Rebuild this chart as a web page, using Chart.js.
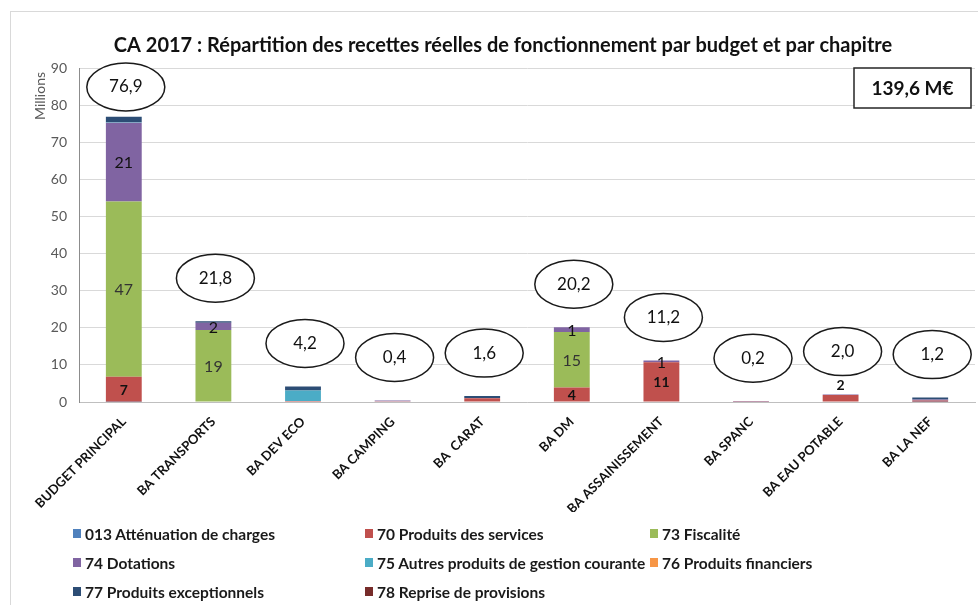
<!DOCTYPE html>
<html lang="fr">
<head>
    <meta charset="UTF-8">
    <title>CA 2017 - Recettes réelles de fonctionnement</title>
    <style>
        body {
            margin: 0;
            background: #fff;
            font-family: Lato, "Open Sans", sans-serif;
            overflow: hidden;
        }
        .frame {
            position: absolute;
            left: 10px;
            top: 11px;
            width: 1000px;
            height: 700px;
            border: 1px solid #d9d9d9;
        }
        #chart {
            position: absolute;
            left: 0;
            top: 0;
        }
        .legend {
            position: absolute;
            left: 73px;
            top: 519px;
            display: grid;
            grid-template-columns: 292px 285px auto;
            grid-auto-rows: 29px;
            font-size: 15.5px;
            font-weight: bold;
            color: #1a1a1a;
        }
        .legend div {
            display: flex;
            align-items: center;
            white-space: nowrap;
        }
        .legend span.box {
            width: 8px;
            height: 9px;
            margin-right: 4px;
        }
    </style>
    <script src="https://cdn.jsdelivr.net/npm/chart.js"></script>
</head>
<body>
    <div class="frame"></div>
    <canvas id="chart" width="978" height="605"></canvas>
    <div class="legend" id="legend"></div>
    <script>
        const budgets = ['BUDGET PRINCIPAL', 'BA TRANSPORTS', 'BA DEV ECO', 'BA CAMPING', 'BA  CARAT',
            'BA DM', 'BA ASSAINISSEMENT', 'BA SPANC', 'BA EAU POTABLE', 'BA LA NEF'];

        const chapitres = ['013 Atténuation de charges', '70 Produits des services', '73 Fiscalité',
            '74 Dotations', '75 Autres produits de gestion courante', '76 Produits financiers',
            '77 Produits exceptionnels', '78 Reprise de provisions'];

        // millions d'euros, one value per budget
        const ch013 = [0.10, 0, 0, 0, 0, 0, 0, 0, 0, 0.10];
        const ch70 = [6.72, 0, 0.30, 0.20, 1.00, 3.90, 10.70, 0.10, 1.90, 0.30];
        const ch73 = [47.20, 19.37, 0, 0, 0, 14.97, 0, 0, 0, 0];
        const ch74 = [21.20, 2.00, 0, 0.20, 0.10, 1.30, 0.50, 0.10, 0.10, 0.30];
        const ch75 = [0.15, 0, 2.80, 0, 0, 0, 0, 0, 0, 0];
        const ch76 = [0, 0, 0, 0, 0, 0, 0, 0, 0, 0];
        const ch77 = [1.50, 0.40, 1.10, 0, 0.50, 0, 0, 0, 0, 0.50];
        const ch78 = [0, 0, 0, 0, 0, 0, 0, 0, 0, 0];

        const yTicks = [0, 10, 20, 30, 40, 50, 60, 70, 80, 90];

        const seriesValues = [ch013, ch70, ch73, ch74, ch75, ch76, ch77, ch78];
        const colors = ['#4F81BD', '#C0504D', '#9BBB59', '#8064A2', '#4BACC6', '#F79646', '#2C4D75', '#772C2A'];
        // only chapters 70, 73 and 74 carry value labels
        const labelled = [1, 2, 3];

        const totals = budgets.map((_, j) => seriesValues.reduce((s, arr) => s + arr[j], 0));
        const grandTotal = totals.reduce((a, b) => a + b, 0);
        const fmt = v => v.toFixed(1).replace('.', ',');

        const font = 'Lato, "Open Sans", sans-serif';

        // legend
        const legend = document.getElementById('legend');
        chapitres.forEach((name, i) => {
            const item = document.createElement('div');
            item.innerHTML = `<span class="box" style="background:${colors[i]}"></span>${name}`;
            legend.appendChild(item);
        });

        const decorations = {
            id: 'decorations',
            afterDatasetsDraw(chart) {
                const ctx = chart.ctx;
                const yScale = chart.scales.y;
                const area = chart.chartArea;

                // value labels inside the segments
                ctx.save();
                ctx.textAlign = 'center';
                ctx.textBaseline = 'middle';
                labelled.forEach(i => {
                    const meta = chart.getDatasetMeta(i);
                    meta.data.forEach((bar, j) => {
                        const v = seriesValues[i][j];
                        if (totals[j] < 1.95 || Math.round(v) < 1) return;
                        let y = (bar.y + bar.base) / 2;
                        const h = bar.base - bar.y;
                        const isBottom = seriesValues.slice(0, i).every(arr => arr[j] === 0);
                        if (isBottom && h < 10) {
                            y = yScale.getPixelForValue(totals[j]) - 10;
                        }
                        if (i === 1) {
                            ctx.font = 'bold 14px ' + font;
                            ctx.fillStyle = '#111';
                        } else {
                            ctx.font = '16px ' + font;
                            ctx.fillStyle = i === 2 ? '#333' : '#111';
                        }
                        ctx.fillText(String(Math.round(v)), bar.x, y + 1);
                    });
                });
                ctx.restore();

                // ellipses with the budget totals
                ctx.save();
                const first = chart.getDatasetMeta(0);
                first.data.forEach((bar, j) => {
                    const top = yScale.getPixelForValue(totals[j]);
                    const cy = Math.max(top - 43, area.top + 19);
                    const cx = bar.x + 2;
                    ctx.beginPath();
                    ctx.ellipse(cx, cy, 39, 24, 0, 0, Math.PI * 2);
                    ctx.fillStyle = '#fff';
                    ctx.fill();
                    ctx.lineWidth = 1.5;
                    ctx.strokeStyle = '#1a1a1a';
                    ctx.stroke();
                    ctx.font = '17px ' + font;
                    ctx.fillStyle = '#111';
                    ctx.textAlign = 'center';
                    ctx.textBaseline = 'middle';
                    ctx.fillText(fmt(totals[j]), cx, cy);
                });
                ctx.restore();
            },
            afterDraw(chart) {
                const ctx = chart.ctx;
                const area = chart.chartArea;
                ctx.save();
                // title
                ctx.font = 'bold 20px ' + font;
                ctx.fillStyle = '#111';
                ctx.textAlign = 'center';
                ctx.textBaseline = 'middle';
                ctx.fillText('CA 2017 : Répartition des recettes réelles de fonctionnement par budget et par chapitre', 503, 46);

                // display units label
                ctx.translate(40, area.top + 28);
                ctx.rotate(-Math.PI / 2);
                ctx.font = '14px ' + font;
                ctx.fillStyle = '#595959';
                ctx.fillText('Millions', 0, 0);
                ctx.restore();

                // grand total box
                ctx.save();
                const bx = area.right - 121, by = area.top, bw = 117, bh = 40;
                ctx.fillStyle = '#fff';
                ctx.fillRect(bx, by, bw, bh);
                ctx.lineWidth = 1.5;
                ctx.strokeStyle = '#262626';
                ctx.strokeRect(bx, by, bw, bh);
                ctx.font = 'bold 19px ' + font;
                ctx.fillStyle = '#111';
                ctx.textAlign = 'center';
                ctx.textBaseline = 'middle';
                ctx.fillText(fmt(grandTotal) + ' M€', bx + bw / 2, by + bh / 2 + 1);
                ctx.restore();
            }
        };

        new Chart(document.getElementById('chart'), {
            type: 'bar',
            data: {
                labels: budgets,
                datasets: chapitres.map((name, i) => ({
                    label: name,
                    data: seriesValues[i],
                    backgroundColor: colors[i],
                    categoryPercentage: 1,
                    barPercentage: 0.4
                }))
            },
            options: {
                responsive: false,
                animation: false,
                layout: { padding: { top: 68, right: 3, bottom: 93, left: 0 } },
                plugins: {
                    legend: { display: false },
                    tooltip: { enabled: false }
                },
                scales: {
                    x: {
                        stacked: true,
                        grid: { display: false, drawTicks: false },
                        border: { color: '#bfbfbf' },
                        ticks: {
                            color: '#111',
                            font: { family: font, size: 13, weight: 'bold' },
                            maxRotation: 45,
                            minRotation: 45,
                            padding: 12,
                            autoSkip: false
                        },
                        afterFit(axis) { axis.height = 110; }
                    },
                    y: {
                        stacked: true,
                        min: yTicks[0],
                        max: yTicks[yTicks.length - 1],
                        afterBuildTicks(axis) { axis.ticks = yTicks.map(v => ({ value: v })); },
                        grid: { color: '#d9d9d9', drawTicks: false },
                        border: { color: '#8c8c8c' },
                        ticks: {
                            color: '#595959',
                            font: { family: font, size: 14 },
                            padding: 12
                        },
                        afterFit(axis) { axis.width = 79; }
                    }
                }
            },
            plugins: [decorations]
        });
    </script>
</body>
</html>
